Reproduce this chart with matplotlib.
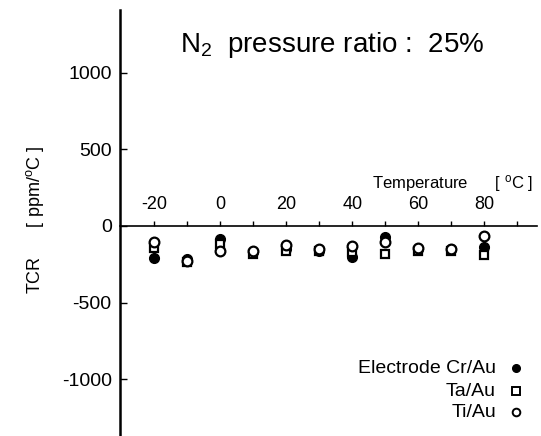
import matplotlib
matplotlib.use('Agg')
import matplotlib.pyplot as plt

plt.rcParams['font.family'] = ['Liberation Sans', 'DejaVu Sans']
plt.rcParams['mathtext.fontset'] = 'custom'
plt.rcParams['mathtext.rm'] = 'Liberation Sans'
plt.rcParams['mathtext.it'] = 'Liberation Sans'
plt.rcParams['axes.unicode_minus'] = False

# Data
temperature = [-20, -10, 0, 10, 20, 30, 40, 50, 60, 70, 80]
tcr_cr_au = [-210, -215, -85, -170, -150, -160, -200, -75, -150, -150, -135]
tcr_ta_au = [-145, -235, -120, -185, -160, -165, -170, -185, -160, -160, -190]
tcr_ti_au = [-105, -225, -160, -165, -125, -150, -130, -105, -145, -150, -65]

legend_labels = ['Electrode Cr/Au', 'Ta/Au', 'Ti/Au']

fig = plt.figure(figsize=(5.41, 4.36), dpi=100)
ax = fig.add_axes([120 / 541, 0.0, 417 / 541, 1 - 10 / 436])

ax.plot(temperature, tcr_cr_au, 'o', color='black', markersize=7)
ax.plot(temperature, tcr_ta_au, 's', mfc='white', mec='black', mew=1.6, markersize=6)
ax.plot(temperature, tcr_ti_au, 'o', mfc='white', mec='black', mew=1.6, markersize=7)

ax.set_xlim(-30.4, 96)
ax.set_ylim(-1369, 1408)

ax.spines['right'].set_visible(False)
ax.spines['bottom'].set_visible(False)
ax.spines['top'].set_position(('data', 0))
ax.spines['left'].set_linewidth(1.8)
ax.spines['top'].set_linewidth(1.2)

ax.xaxis.tick_top()
ax.set_xticks([-20, 0, 20, 40, 60, 80])
ax.set_xticks(range(-20, 100, 10), minor=True)
ax.tick_params(axis='x', which='both', direction='out', length=3.5, width=1, pad=6, labelsize=13)
ax.set_yticks([-1000, -500, 0, 500, 1000])
ax.tick_params(axis='y', direction='in', length=5, width=1, pad=6, labelsize=14)

fig.text(332 / 541, 1 - 45 / 436, 'N$_2$  pressure ratio :  25%', ha='center', va='center', fontsize=20)
fig.text(533 / 541, 1 - 183 / 436, 'Temperature      [ $^{\\mathrm{o}}$C ]', ha='right', va='center', fontsize=12)
fig.text(35 / 541, 1 - 220 / 436, 'TCR      [ ppm/$^{\\mathrm{o}}$C ]', rotation=90, ha='center', va='center', fontsize=13)

# legend drawn by hand, text right-aligned, markers after
markers = [dict(marker='o', mfc='black', mec='black', markersize=5.5),
           dict(marker='s', mfc='white', mec='black', mew=1.4, markersize=5.5),
           dict(marker='o', mfc='white', mec='black', mew=1.4, markersize=5.5)]
rows_y = [368, 391, 412]
for label, mk, py in zip(legend_labels, markers, rows_y):
    fig.text(496 / 541, 1 - py / 436, label, ha='right', va='center', fontsize=14)
    ax.plot([(516 - 120) / 417], [1 - (py - 10) / 426], transform=ax.transAxes,
            linestyle='none', clip_on=False, **mk)

fig.savefig('out.png', dpi=100)
